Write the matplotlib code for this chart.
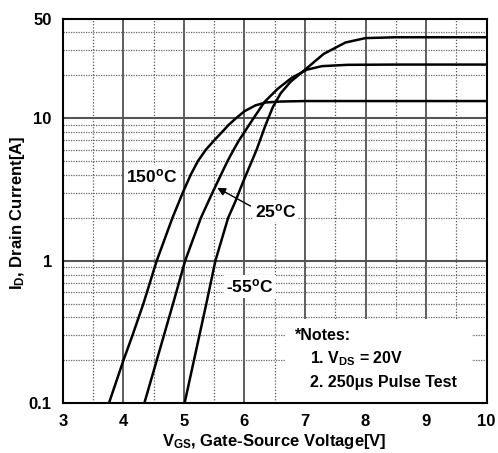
import matplotlib
matplotlib.use("Agg")
import matplotlib.pyplot as plt
from matplotlib.patches import Rectangle

plt.rcParams["font.family"] = ["Liberation Sans", "DejaVu Sans"]
plt.rcParams["font.weight"] = "bold"
plt.rcParams["mathtext.fontset"] = "custom"
plt.rcParams["mathtext.rm"] = "Liberation Sans:bold"
plt.rcParams["mathtext.it"] = "Liberation Sans:bold"
plt.rcParams["mathtext.bf"] = "Liberation Sans:bold"

# values
v_150 = [3.76, 4.00, 4.15, 4.33, 4.55, 4.81, 4.98, 5.11, 5.23, 5.36, 5.50, 5.63,
         5.74, 5.86, 6.00, 6.18, 6.35, 6.60, 7.00, 8.00, 10.0]
i_150 = [0.10, 0.20, 0.30, 0.50, 1.00, 2.00, 3.00, 4.00, 5.00, 6.00, 7.00, 8.00,
         9.00, 10.0, 11.2, 12.3, 12.9, 13.1, 13.2, 13.2, 13.2]

v_25 = [4.345, 4.55, 4.82, 5.02, 5.28, 5.47, 5.61, 5.72, 5.82, 5.91, 6.00, 6.15,
        6.33, 6.55, 6.78, 7.03, 7.28, 7.70, 8.50, 10.0]
i_25 = [0.10, 0.20, 0.50, 1.00, 2.00, 3.00, 4.00, 5.00, 6.00, 7.00, 8.00, 10.0,
        13.0, 16.1, 19.2, 21.9, 23.2, 23.7, 23.8, 23.8]

v_m55 = [5.01, 5.165, 5.37, 5.52, 5.73, 5.84, 5.98, 6.20, 6.35, 6.47, 6.60, 6.76,
         7.00, 7.31, 7.67, 8.00, 8.50, 10.0]
i_m55 = [0.10, 0.20, 0.50, 1.00, 2.00, 2.55, 3.60, 6.00, 9.00, 12.0, 15.0, 18.0,
         21.9, 28.3, 34.0, 36.5, 37.0, 37.0]

x_ticks = [3, 4, 5, 6, 7, 8, 9, 10]
y_ticks = [0.1, 1, 10, 50]
y_tick_labels = ["0.1", "1", "10", "50"]
y_minor = [0.2, 0.3, 0.4, 0.5, 0.6, 0.7, 0.8, 0.9, 2, 3, 4, 5, 6, 7, 8, 9, 20, 30, 40]

fig = plt.figure(figsize=(4.98, 4.53), dpi=100)
ax = fig.add_axes([0.1263, 0.1097, 0.8507, 0.8492])
ax.set_yscale("log")
ax.set_xlim(3, 10)
ax.set_ylim(0.1, 50)

# grid
for v in x_ticks[1:-1]:
    ax.axvline(v, color="#333333", lw=1.1, zorder=1)
for v in x_ticks[:-1]:
    ax.axvline(v + 0.5, color="#555555", lw=0.9, ls=(0, (1, 1.5)), zorder=1)
for y in [1, 10]:
    ax.axhline(y, color="#555555", lw=1.5, zorder=1)
for y in y_minor:
    ax.axhline(y, color="#666666", lw=0.9, ls=(0, (1, 1)), zorder=1)

ax.plot(v_150, i_150, color="black", lw=1.8, zorder=3)
ax.plot(v_25, i_25, color="black", lw=1.8, zorder=3)
ax.plot(v_m55, i_m55, color="black", lw=1.8, zorder=3)

ax.set_xticks(x_ticks)
ax.set_xticklabels([str(t) for t in x_ticks])
ax.set_yticks(y_ticks)
ax.set_yticklabels(y_tick_labels)
ax.minorticks_off()
ax.tick_params(length=0, labelsize=12, pad=8)
for s in ax.spines.values():
    s.set_linewidth(1.5)
    s.set_zorder(5)

box = dict(facecolor="white", edgecolor="none", pad=1.5)
ax.text(4.05, 3.9, "150$^{\\rm o}$C", fontsize=12.5, va="center", ha="left",
        bbox=box, zorder=4)
ax.text(5.70, 0.66, "-55$^{\\rm o}$C", fontsize=12.5, va="center", ha="left",
        bbox=box, zorder=4)
ax.text(6.17, 2.23, "25$^{\\rm o}$C", fontsize=12.5, va="center", ha="left",
        bbox=box, zorder=4)
ax.annotate("", xy=(5.55, 3.25), xytext=(6.10, 2.42),
            arrowprops=dict(arrowstyle="-|>", color="black", lw=1.0,
                            mutation_scale=12, shrinkA=0, shrinkB=0), zorder=4)

ax.add_patch(Rectangle((0.524, 0.002), 0.442, 0.217, transform=ax.transAxes,
                       facecolor="white", edgecolor="none", zorder=2))
ax.text(0.547, 0.175, "*Notes:", transform=ax.transAxes, fontsize=11.5,
        va="center", zorder=4)
ax.text(0.583, 0.115, "1. V$_{\\rm DS}$ = 20V", transform=ax.transAxes,
        fontsize=11.5, va="center", zorder=4)
ax.text(0.583, 0.055, "2. 250\u03bcs Pulse Test", transform=ax.transAxes,
        fontsize=11.5, va="center", zorder=4)

fig.text(0.035, 0.53, "I$_{\\rm D}$, Drain Current[A]", rotation=90,
         fontsize=12, ha="center", va="center")
fig.text(0.55, 0.025, "V$_{\\rm GS}$, Gate-Source Voltage[V]",
         fontsize=12, ha="center", va="center")

fig.savefig("out.png", dpi=100)
